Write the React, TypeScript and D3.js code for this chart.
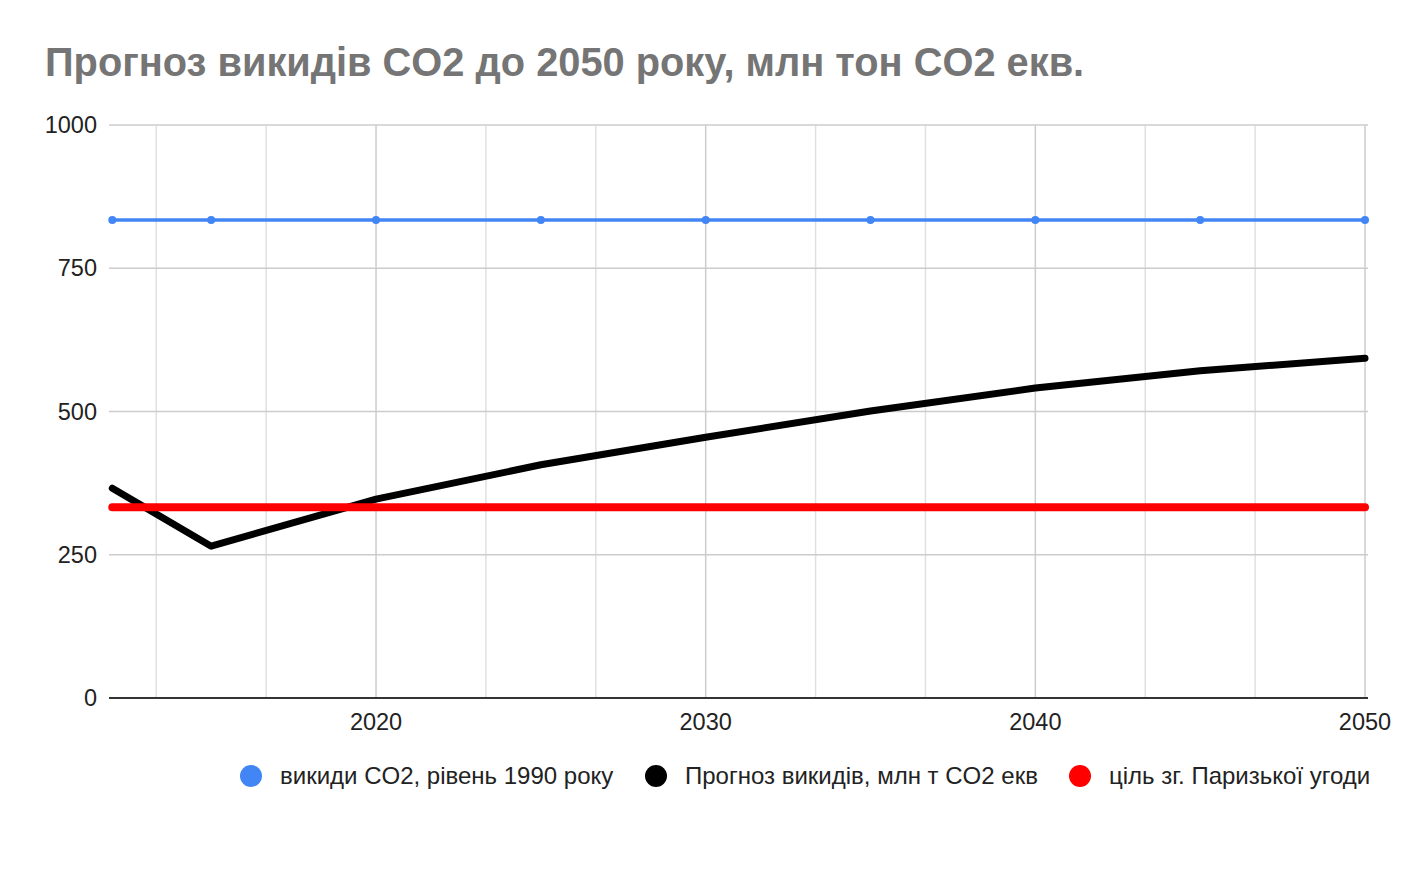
import React from "react";
import * as d3 from "d3";

const years = [2012, 2015, 2020, 2025, 2030, 2035, 2040, 2045, 2050];
const level1990 = [834, 834, 834, 834, 834, 834, 834, 834, 834];
const forecast = [366, 265, 347, 407, 455, 501, 541, 571, 593];
const parisTarget = [333, 333, 333, 333, 333, 333, 333, 333, 333];
const yTicks = [0, 250, 500, 750, 1000];
const xTicks = [2020, 2030, 2040, 2050];
const seriesNames = [
  "викиди CO2, рівень 1990 року",
  "Прогноз викидів, млн т CO2 екв",
  "ціль зг. Паризької угоди",
];
const title = "Прогноз викидів CO2 до 2050 року, млн тон CO2 екв.";

const W = 1412;
const H = 874;
const FONT = "'Liberation Sans', Arial, sans-serif";

export default function App() {
  const x = d3.scaleLinear().domain([2011.9, 2050]).range([109, 1365]);
  const y = d3.scaleLinear().domain([0, 1000]).range([698, 125]);
  const [x0, x1] = x.range();

  const minorTicks: number[] = [];
  [2010, ...xTicks].forEach((t) => {
    [10 / 3, 20 / 3].forEach((o) => {
      const v = t + o;
      if (v > 2011.9 && v < 2050) minorTicks.push(v);
    });
  });

  const line = d3
    .line<[number, number]>()
    .x((d) => x(d[0]))
    .y((d) => y(d[1]));

  const mk = (vals: number[]) => years.map((yr, i) => [yr, vals[i]] as [number, number]);

  const series = [
    { name: seriesNames[0], vals: level1990, color: "#4285f4", width: 3.5, dots: 4 },
    { name: seriesNames[1], vals: forecast, color: "#000000", width: 7, dots: 0 },
    { name: seriesNames[2], vals: parisTarget, color: "#ff0000", width: 8, dots: 0 },
  ];

  const legendX = [251, 656, 1080];

  return (
    <div style={{ position: "absolute", left: 0, top: 0 }}>
      <svg width={W} height={H} style={{ display: "block", background: "#fff" }} fontFamily={FONT}>
        <rect width={W} height={H} fill="#fff" />
        <text x={45} y={76} fontSize={39.8} fontWeight="bold" fill="#757575">
          {title}
        </text>

        {minorTicks.map((t) => (
          <line key={"m" + t} x1={x(t)} x2={x(t)} y1={y(1000)} y2={y(0)} stroke="#e0e0e0" strokeWidth={1.5} />
        ))}
        {xTicks.map((t) => (
          <line key={"x" + t} x1={x(t)} x2={x(t)} y1={y(1000)} y2={y(0)} stroke="#cccccc" strokeWidth={1.5} />
        ))}
        {yTicks.filter((t) => t > 0).map((t) => (
          <line key={"y" + t} x1={x0} x2={x1 + 3} y1={y(t)} y2={y(t)} stroke="#cccccc" strokeWidth={1.5} />
        ))}
        <line x1={x0} x2={x1 + 3} y1={y(0)} y2={y(0)} stroke="#333333" strokeWidth={2} />

        {yTicks.map((t) => (
          <text key={"yl" + t} x={97} y={y(t) + 8} textAnchor="end" fontSize={23.5} fill="#222">
            {t}
          </text>
        ))}
        {xTicks.map((t) => (
          <text key={"xl" + t} x={x(t)} y={730} textAnchor="middle" fontSize={23.5} fill="#222">
            {t}
          </text>
        ))}

        {series.map((s) => (
          <g key={s.name}>
            <path
              d={line(mk(s.vals)) || ""}
              fill="none"
              stroke={s.color}
              strokeWidth={s.width}
              strokeLinejoin="round"
              strokeLinecap="round"
            />
            {s.dots > 0 &&
              mk(s.vals).map((d, i) => (
                <circle key={i} cx={x(d[0])} cy={y(d[1])} r={s.dots} fill={s.color} />
              ))}
          </g>
        ))}

        {series.map((s, i) => (
          <g key={"lg" + i}>
            <circle cx={legendX[i]} cy={776} r={11} fill={s.color} />
            <text x={legendX[i] + 29} y={784} fontSize={24} fill="#222">
              {s.name}
            </text>
          </g>
        ))}
      </svg>
    </div>
  );
}
